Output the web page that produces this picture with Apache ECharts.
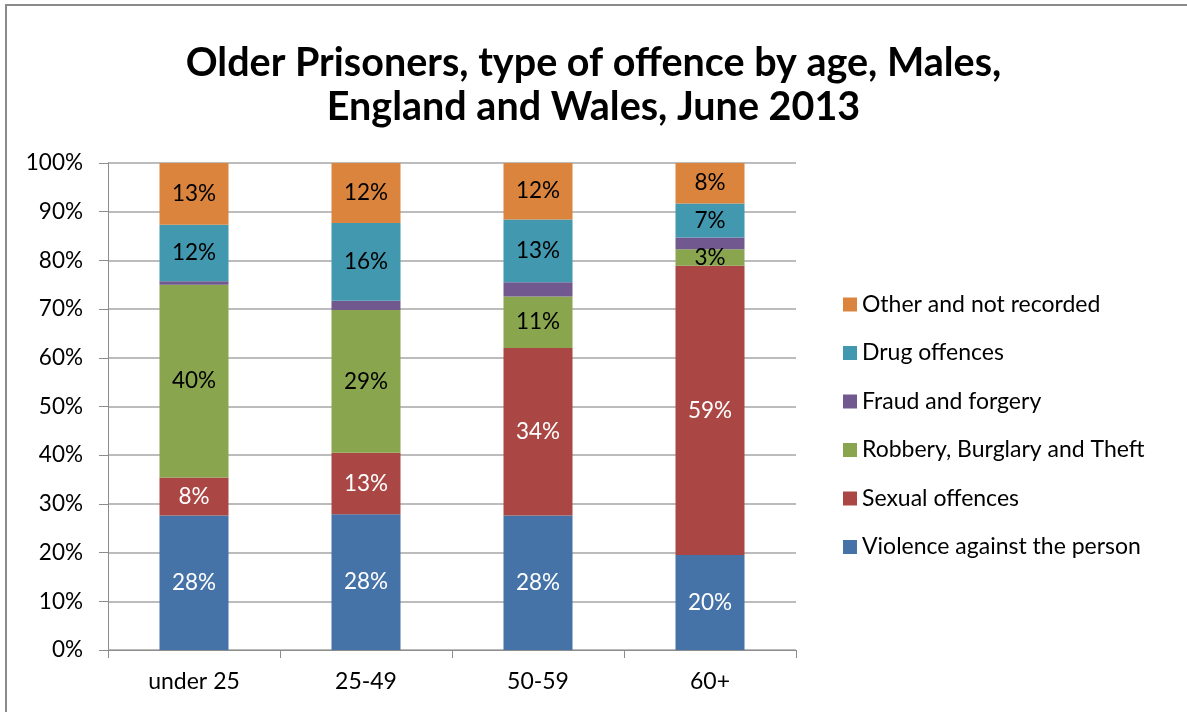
<!DOCTYPE html>
<html>
<head>
<meta charset="utf-8">
<title>Older Prisoners, type of offence by age</title>
<script src="https://cdn.jsdelivr.net/npm/echarts@6/dist/echarts.min.js"></script>
<style>
  html, body { margin: 0; padding: 0; background: #fff; }
  #chart { width: 1187px; height: 712px; }
</style>
</head>
<body>
<div id="chart"></div>
<script>
// Age groups on the category axis
const ageGroups = ['under 25', '25-49', '50-59', '60+'];

// Share of male prisoners (%) by offence type, per age group
const violence = [27.6, 27.9, 27.6, 19.5];
const sexual   = [7.8, 12.6, 34.4, 59.4];
const robbery  = [39.6, 29.3, 10.6, 3.4];
const fraud    = [0.7, 1.9, 2.9, 2.4];
const drug     = [11.6, 16.0, 12.9, 7.0];
const other    = [12.7, 12.3, 11.6, 8.3];

const yTicks = [0, 10, 20, 30, 40, 50, 60, 70, 80, 90, 100];

const FONT = 'Lato, "Open Sans", sans-serif';

function bar(name, data, color, labelColor, showLabel) {
  return {
    name: name,
    type: 'bar',
    stack: 'offence',
    data: data,
    barWidth: 69,
    itemStyle: { color: color },
    label: {
      show: showLabel,
      position: 'inside',
      color: labelColor,
      fontFamily: FONT,
      fontSize: 22.5,
      formatter: p => Math.round(p.value) + '%'
    }
  };
}

const chart = echarts.init(document.getElementById('chart'), null, { renderer: 'canvas' });

chart.setOption({
  backgroundColor: '#ffffff',
  animation: false,
  title: {
    text: 'Older Prisoners, type of offence by age, Males,\nEngland and Wales, June 2013',
    left: 'center',
    top: 36,
    textStyle: {
      fontFamily: FONT,
      fontWeight: 'bold',
      fontSize: 39.5,
      lineHeight: 44,
      color: '#000'
    }
  },
  legend: {
    orient: 'vertical',
    left: 838,
    top: 288,
    itemWidth: 14,
    itemHeight: 14,
    itemGap: 25.5,
    icon: 'rect',
    textStyle: { fontFamily: FONT, fontSize: 23, color: '#000' },
    data: ['Other and not recorded', 'Drug offences', 'Fraud and forgery',
           'Robbery, Burglary and Theft', 'Sexual offences', 'Violence against the person']
  },
  grid: { left: 108, right: 391, top: 163, bottom: 62, containLabel: false },
  xAxis: {
    type: 'category',
    data: ageGroups,
    axisLine: { lineStyle: { color: '#8c8c8c', width: 1 } },
    axisTick: { show: true, length: 8, lineStyle: { color: '#8c8c8c' } },
    axisLabel: { fontFamily: FONT, fontSize: 23, color: '#000', margin: 20 }
  },
  yAxis: {
    type: 'value',
    min: yTicks[0],
    max: yTicks[yTicks.length - 1],
    interval: 10,
    axisLine: { show: true, lineStyle: { color: '#8c8c8c', width: 1 } },
    axisTick: { show: true, length: 9, lineStyle: { color: '#8c8c8c' } },
    splitLine: { lineStyle: { color: '#a6a6a6', width: 1.5 } },
    axisLabel: { fontFamily: FONT, fontSize: 22.5, color: '#000', margin: 25, formatter: '{value}%' }
  },
  graphic: [{
    type: 'polyline',
    shape: { points: [[6, 712], [6, 5], [1187, 5]] },
    style: { stroke: '#8a8a8a', lineWidth: 2, fill: null }
  }],
  series: [
    bar('Violence against the person', violence, '#4572A7', '#ffffff', true),
    bar('Sexual offences', sexual, '#AA4643', '#ffffff', true),
    bar('Robbery, Burglary and Theft', robbery, '#89A54E', '#000000', true),
    bar('Fraud and forgery', fraud, '#71588F', '#000000', false),
    bar('Drug offences', drug, '#4198AF', '#000000', true),
    bar('Other and not recorded', other, '#DB843D', '#000000', true)
  ]
});
</script>
</body>
</html>
